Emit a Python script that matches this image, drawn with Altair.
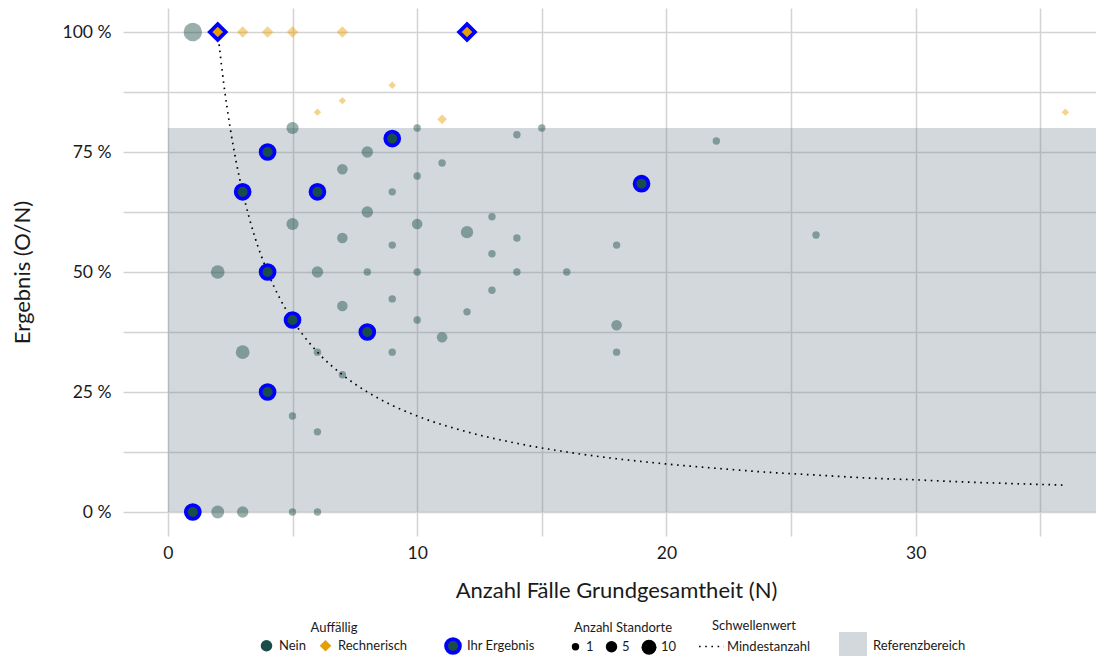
import altair as alt
import pandas as pd

# ---------------- data ----------------
# Auffällig = "Nein": N, rate (O/N), number of sites
nein_n = [1, 5, 10, 14, 15, 8, 7, 11, 10, 9,
          8, 13, 5, 10, 12, 14, 7, 9, 13, 2,
          6, 8, 10, 14, 16, 13, 9, 7, 12, 10,
          11, 3, 6, 9, 7, 5, 6, 2, 3, 5,
          6, 22, 18, 26, 18, 18]
nein_rate = [1.0, 0.8, 0.8, 0.786, 0.8, 0.75, 0.714, 0.727, 0.7, 0.667,
             0.625, 0.615, 0.6, 0.6, 0.583, 0.571, 0.571, 0.556, 0.538, 0.5,
             0.5, 0.5, 0.5, 0.5, 0.5, 0.462, 0.444, 0.429, 0.417, 0.4,
             0.364, 0.333, 0.333, 0.333, 0.286, 0.2, 0.167, 0.0, 0.0, 0.0,
             0.0, 0.773, 0.556, 0.577, 0.389, 0.333]
nein_sites = [16, 6, 1, 1, 1, 5, 4, 1, 1, 1,
              5, 1, 6, 4, 6, 1, 4, 1, 1, 8,
              5, 1, 1, 1, 1, 1, 1, 4, 1, 1,
              4, 8, 1, 1, 1, 1, 1, 7, 5, 1,
              1, 1, 1, 1, 4, 1]

# Auffällig = "Rechnerisch"
rech_n = [3, 4, 5, 7, 6, 7, 9, 11, 36]
rech_rate = [1.0, 1.0, 1.0, 1.0, 0.833, 0.857, 0.889, 0.818, 0.833]
rech_sites = [5, 5, 5, 5, 1, 1, 1, 3, 1]

# "Ihr Ergebnis" (highlighted results)
ihr_nein_n = [9, 4, 3, 6, 4, 5, 8, 4, 1, 19]
ihr_nein_rate = [0.778, 0.75, 0.667, 0.667, 0.5, 0.4, 0.375, 0.25, 0.0, 0.684]
ihr_rech_n = [2, 12]
ihr_rech_rate = [1.0, 1.0]

# Schwellenwert: Mindestanzahl curve
thr_n = [2, 2.25, 2.5, 2.75, 3, 3.5, 4, 4.5, 5, 6, 7, 8, 9, 10, 12, 14,
         16, 18, 20, 22, 24, 26, 28, 30, 32, 34, 36]
thr_rate = [1.0, 0.889, 0.8, 0.727, 0.667, 0.571, 0.5, 0.444, 0.4, 0.333,
            0.286, 0.25, 0.222, 0.2, 0.167, 0.143, 0.125, 0.111, 0.1, 0.091,
            0.083, 0.077, 0.071, 0.067, 0.0625, 0.059, 0.056]

# Referenzbereich
ref_x = [0]
ref_x2 = [40]
ref_y = [0.0]
ref_y2 = [0.8]

categories = ["Nein", "Rechnerisch"]

# ---------------- tables ----------------
pts = pd.concat([
    pd.DataFrame({"N": nein_n, "rate": nein_rate, "sites": nein_sites, "Auffällig": "Nein"}),
    pd.DataFrame({"N": rech_n, "rate": rech_rate, "sites": rech_sites, "Auffällig": "Rechnerisch"}),
], ignore_index=True)
ihr_c = pd.DataFrame({"N": ihr_nein_n, "rate": ihr_nein_rate, "Auffällig": "Nein", "ihr": "Ihr Ergebnis"})
ihr_d = pd.DataFrame({"N": ihr_rech_n, "rate": ihr_rech_rate, "Auffällig": "Rechnerisch", "ihr": "Ihr Ergebnis"})
thr = pd.DataFrame({"N": thr_n, "rate": thr_rate, "sw": "Mindestanzahl"})
ref = pd.DataFrame({"N": ref_x, "N2": ref_x2, "rate": ref_y, "rate2": ref_y2, "rb": "Referenzbereich"})

FONT = "Lato"
TEAL = "#1a4d48"
ORANGE = "#E69F00"
XTITLE = "Anzahl Fälle Grundgesamtheit (N)"
YTITLE = "Ergebnis (O/N)"

xscale = alt.Scale(domain=[-1.8, 37.23], nice=False, zero=False)
yscale = alt.Scale(domain=[-0.05, 1.05], nice=False, zero=False)

xaxis = alt.Axis(values=[0, 5, 10, 15, 20, 25, 30, 35],
                 labelExpr="datum.value % 10 === 0 ? datum.label : ''",
                 grid=True, gridColor="#d3d3d3", gridWidth=1.5,
                 ticks=False, domain=False, labelFontSize=17.5, labelPadding=8,
                 labelColor="#1a1a1a", titleColor="#1a1a1a",
                 titleFontSize=22, titleFontWeight="normal",
                 titleX=493, titleY=54, titleAlign="center", titleBaseline="middle")
yaxis = alt.Axis(values=[0, 0.125, 0.25, 0.375, 0.5, 0.625, 0.75, 0.875, 1.0],
                 labelExpr="round(datum.value*8) % 2 === 0 ? round(datum.value*100) + ' %' : ''",
                 grid=True, gridColor="#d3d3d3", gridWidth=1.5,
                 ticks=False, domain=False, labelFontSize=17.5, labelPadding=12,
                 labelColor="#1a1a1a", titleColor="#1a1a1a",
                 titleFontSize=22, titleFontWeight="normal",
                 titleX=-101, titleY=264, titleAlign="center", titleBaseline="middle", titleAngle=270)

X = alt.X("N:Q", scale=xscale, axis=xaxis, title=XTITLE)
Y = alt.Y("rate:Q", scale=yscale, axis=yaxis, title=YTITLE)

leg_auff = alt.Legend(title="Auffällig", orient="none", legendX=137, legendY=614,
                      direction="horizontal", titleAnchor="middle", symbolSize=135,
                      symbolOpacity=1, symbolStrokeWidth=0, labelOffset=6, columnPadding=13,
                      titlePadding=4)
leg_ihr = alt.Legend(title=None, orient="none", legendX=321, legendY=629,
                     direction="horizontal", symbolType="circle", symbolFillColor=TEAL,
                     symbolStrokeWidth=3.8, symbolSize=193, symbolOpacity=1, labelOffset=5)
leg_size = alt.Legend(title="Anzahl Standorte", orient="none", legendX=446, legendY=614,
                      direction="horizontal", values=[1, 5, 10], symbolFillColor="black",
                      symbolStrokeWidth=0, symbolOpacity=1, titleAnchor="middle",
                      labelOffset=4, columnPadding=11, titlePadding=4)
leg_thr = alt.Legend(title="Schwellenwert", orient="none", legendX=575, legendY=612,
                     direction="horizontal", symbolType="stroke", symbolStrokeColor="black",
                     symbolSize=625, symbolStrokeWidth=1.7, titleAnchor="middle", labelOffset=2,
                     titlePadding=0)
leg_ref = alt.Legend(title=None, orient="none", legendX=716, legendY=624,
                     direction="horizontal", symbolType="square", symbolSize=784,
                     symbolOpacity=0.3, symbolStrokeWidth=0, labelOffset=6)

color_enc = alt.Color("Auffällig:N", scale=alt.Scale(domain=categories, range=[TEAL, ORANGE]), legend=leg_auff)
shape_enc = alt.Shape("Auffällig:N", scale=alt.Scale(domain=categories, range=["circle", "diamond"]), legend=leg_auff)

rect = alt.Chart(ref).mark_rect(fillOpacity=0.3, clip=True).encode(
    x=X, x2="N2:Q", y=Y, y2="rate2:Q",
    fill=alt.Fill("rb:N", scale=alt.Scale(domain=["Referenzbereich"], range=["#6c7d8a"]), legend=leg_ref),
)

points = alt.Chart(pts).mark_point(filled=True, opacity=1, fillOpacity=0.45, strokeWidth=0).encode(
    x=X, y=Y,
    color=color_enc,
    shape=shape_enc,
    size=alt.Size("sites:Q", scale=alt.Scale(domain=[1, 16], range=[55, 338.5]), legend=leg_size),
)

line = alt.Chart(thr).mark_line(color="black", strokeWidth=1.7, strokeCap="butt", interpolate="monotone").encode(
    x=X, y=Y,
    strokeDash=alt.StrokeDash("sw:N", scale=alt.Scale(domain=["Mindestanzahl"], range=[[1.6, 4.6]]), legend=leg_thr),
)

stroke_enc = alt.Stroke("ihr:N", scale=alt.Scale(domain=["Ihr Ergebnis"], range=["#0000ff"]), legend=leg_ihr)

ihr_circles = alt.Chart(ihr_c).mark_point(filled=True, opacity=1, strokeWidth=3.8, size=193).encode(
    x=X, y=Y, color=color_enc, shape=shape_enc, stroke=stroke_enc,
)
ihr_diamonds = alt.Chart(ihr_d).mark_point(filled=True, opacity=1, strokeWidth=3.8, size=251).encode(
    x=X, y=Y, color=color_enc, shape=shape_enc, stroke=stroke_enc,
)

chart = alt.layer(rect, points, line, ihr_circles, ihr_diamonds).properties(
    width=973, height=528,
    autosize=alt.AutoSizeParams(type="none"),
    padding={"left": 115, "top": 0, "right": 0, "bottom": 120},
    background="white",
).configure(font=FONT).configure_view(stroke=None).configure_legend(
    labelFont=FONT, titleFont=FONT, labelFontSize=13, titleFontSize=13,
    titleFontWeight="normal", labelColor="#1a1a1a", titleColor="#1a1a1a",
    titlePadding=5, padding=0,
).configure_axis(labelFont=FONT, titleFont=FONT)

chart.save("out.html", embed_options={"renderer": "svg", "actions": False})
